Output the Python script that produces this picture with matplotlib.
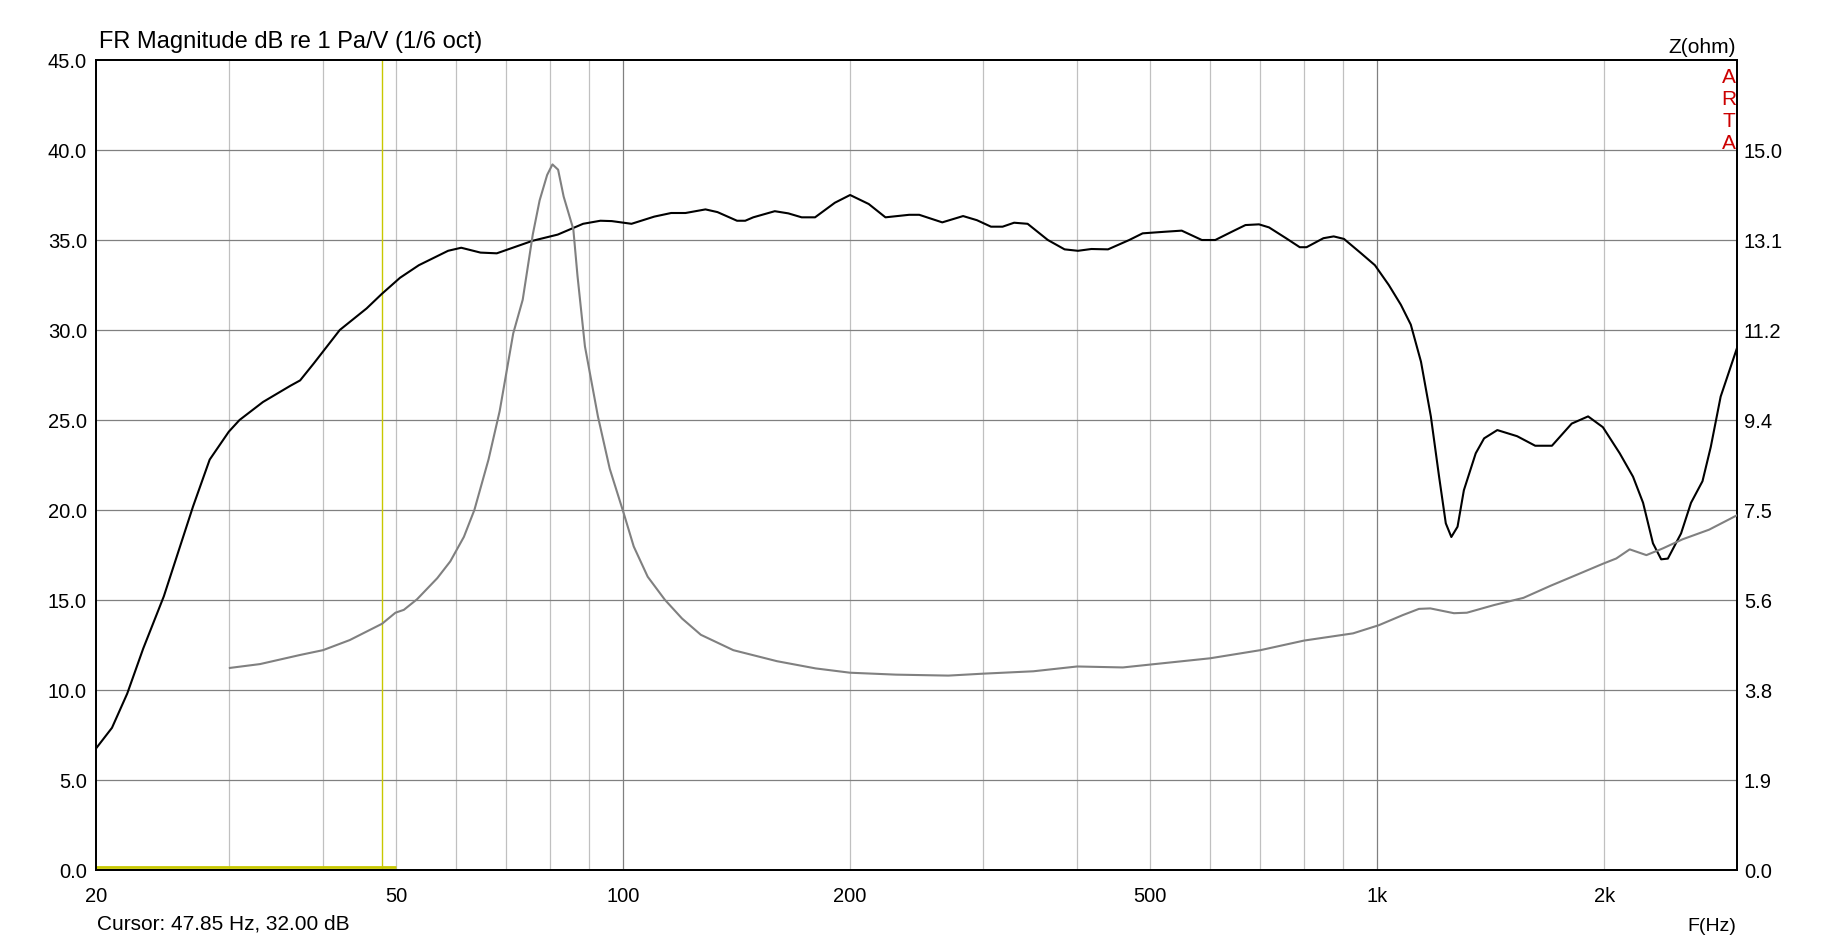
import matplotlib
matplotlib.use("Agg")
import matplotlib.pyplot as plt

plt.rcParams['font.family'] = ['Liberation Sans', 'DejaVu Sans']

# SPL curve (black), dB re 1 Pa/V
spl_freq = [20, 21, 22, 23.1, 24.6, 26.9, 28.3, 30, 31, 33.3, 36.2, 37.3, 38.9, 42.1,
            45.7, 47.85, 50.6, 53.6, 58.6, 61, 64.7, 68, 75.9, 81.9, 88.5, 93.3, 96.6,
            102.6, 110, 115.8, 121, 128.6, 133.4, 141.6, 145.2, 148.8, 158.9, 165.6,
            172.5, 179.7, 190.9, 200, 211.7, 222.8, 239.5, 247, 265, 282.4, 294.6,
            307.5, 318.6, 330, 343.9, 365.8, 385, 401, 417.8, 439.6, 469, 488.6, 523.7,
            550.5, 585.4, 609.9, 641.6, 668.8, 697, 718.7, 757, 789.4, 806, 848.6,
            875.6, 903.5, 952, 993, 1036, 1075, 1108, 1143, 1178, 1208, 1233, 1254,
            1278, 1303, 1351, 1386, 1443, 1533, 1620, 1705, 1811, 1904, 1992, 2097,
            2184, 2252, 2321, 2380, 2429, 2529, 2607, 2700, 2769, 2854, 3000]
spl_db = [6.75, 7.9, 9.8, 12.3, 15.2, 20.2, 22.8, 24.35, 25.0, 26.0, 26.9, 27.2, 28.15, 30.0,
          31.2, 32.0, 32.9, 33.6, 34.4, 34.57, 34.3, 34.26, 34.96, 35.3, 35.9, 36.07, 36.05,
          35.9, 36.3, 36.5, 36.5, 36.7, 36.55, 36.07, 36.07, 36.26, 36.6, 36.48,
          36.26, 36.26, 37.07, 37.5, 37.0, 36.26, 36.4, 36.4, 35.98, 36.33, 36.1,
          35.74, 35.74, 35.96, 35.9, 35.0, 34.48, 34.4, 34.5, 34.48, 35.0, 35.37, 35.46,
          35.52, 35.0, 35.0, 35.46, 35.83, 35.87, 35.7, 35.1, 34.6, 34.6, 35.1,
          35.2, 35.06, 34.26, 33.6, 32.5, 31.4, 30.3, 28.24, 25.2, 21.85, 19.26, 18.5,
          19.07, 21.1, 23.15, 23.98, 24.44, 24.1, 23.57, 23.57, 24.8, 25.2, 24.6, 23.15,
          21.85, 20.4, 18.15, 17.26, 17.3, 18.7, 20.4, 21.6, 23.5, 26.3, 29.0]

# impedance curve (gray), ohm
z_freq = [30.1, 33, 37.3, 40, 43.4, 47.9, 49.9, 51.2, 53.3, 56.7, 59.0, 61.5, 63.5, 66.3,
          68.6, 71.5, 73.6, 75.9, 77.5, 79.3, 80.6, 82.0, 83.4, 85.9, 87.0, 89.0, 92.6,
          96, 100.2, 103.3, 107.8, 113.6, 119.7, 126.8, 140, 160, 180, 200, 230, 270,
          300, 350, 400, 460, 500, 600, 700, 800, 929, 1005, 1081, 1136, 1176, 1264,
          1315, 1429, 1563, 1697, 1839, 1992, 2075, 2162, 2275, 2392, 2541, 2755, 3000]
z_ohm = [4.21, 4.29, 4.48, 4.58, 4.79, 5.13, 5.36, 5.42, 5.64, 6.08, 6.43, 6.94, 7.5, 8.55,
         9.56, 11.18, 11.88, 13.24, 13.95, 14.48, 14.7, 14.59, 14.03, 13.35, 12.38, 10.91, 9.45,
         8.36, 7.43, 6.74, 6.11, 5.63, 5.24, 4.9, 4.58, 4.35, 4.2, 4.11, 4.07, 4.05,
         4.09, 4.14, 4.24, 4.22, 4.28, 4.41, 4.58, 4.78, 4.93, 5.1, 5.31, 5.44, 5.45, 5.35,
         5.36, 5.52, 5.67, 5.92, 6.15, 6.38, 6.49, 6.68, 6.56, 6.7, 6.89, 7.09, 7.39]

x_ticks = [20, 50, 100, 200, 500, 1000, 2000]
x_tick_labels = ['20', '50', '100', '200', '500', '1k', '2k']
light_grid = [30, 40, 50, 60, 70, 80, 90, 200, 300, 400, 500, 600, 700, 800, 900, 2000]
dark_grid = [100, 1000]
db_ticks = [0, 5, 10, 15, 20, 25, 30, 35, 40, 45]
z_ticks = [0, 1.875, 3.75, 5.625, 7.5, 9.375, 11.25, 13.125, 15.0]
z_tick_labels = ['0.0', '1.9', '3.8', '5.6', '7.5', '9.4', '11.2', '13.1', '15.0']

cursor_freq = 47.85
cursor_db = 32.00

fig = plt.figure(figsize=(18.33, 9.42), dpi=100)
ax = fig.add_axes([96 / 1833, 72 / 942, (1737 - 96) / 1833, 810 / 942])

ax.set_xscale('log')
ax.set_xlim(20, 3000)
ax.set_ylim(0, 45)

# grid
for f in light_grid:
    ax.axvline(f, color='#c0c0c0', lw=0.9, zorder=1)
for f in dark_grid:
    ax.axvline(f, color='#808080', lw=0.9, zorder=1)
for d in db_ticks[1:-1]:
    ax.axhline(d, color='#808080', lw=0.9, zorder=1)

# cursor
ax.axvline(cursor_freq, color='#c8c800', lw=1.0, zorder=2)
ax.plot([20, 50], [0.17, 0.17], color='#c8c800', lw=2.0, zorder=2, solid_capstyle='butt')

ax.plot(spl_freq, spl_db, color='black', lw=1.5, zorder=4)

ax.set_xticks(x_ticks)
ax.set_xticklabels(x_tick_labels)
ax.xaxis.set_minor_locator(matplotlib.ticker.NullLocator())
ax.set_yticks(db_ticks)
ax.set_yticklabels([f"{v:.1f}" for v in db_ticks])
ax.tick_params(axis='both', length=0, labelsize=14.5)
ax.tick_params(axis='x', pad=12)
ax.tick_params(axis='y', pad=6.5)
for s in ax.spines.values():
    s.set_linewidth(1.3)
    s.set_color('black')

ax2 = ax.twinx()
ax2.set_ylim(0, 45 * 15.0 / 40)
ax2.plot(z_freq, z_ohm, color='#808080', lw=1.5, zorder=3)
ax2.set_yticks(z_ticks)
ax2.set_yticklabels(z_tick_labels)
ax2.tick_params(axis='y', length=0, labelsize=14.5, pad=5)
for s in ax2.spines.values():
    s.set_linewidth(1.3)

# texts
fig.text(99 / 1833, 1 - 48 / 942, 'FR Magnitude dB re 1 Pa/V (1/6 oct)',
         fontsize=17, ha='left', va='baseline')
fig.text(1736 / 1833, 1 - 53 / 942, 'Z(ohm)', fontsize=15, ha='right', va='baseline')
fig.text(1736 / 1833, 1 - 931 / 942, 'F(Hz)', fontsize=14, ha='right', va='baseline')
fig.text(97 / 1833, 1 - 930 / 942, f'Cursor: {cursor_freq:.2f} Hz, {cursor_db:.2f} dB',
         fontsize=15, ha='left', va='baseline')
for i, ch in enumerate('ARTA'):
    fig.text(1729 / 1833, 1 - (83 + i * 22) / 942, ch, color='#cc0000',
             fontsize=15, ha='center', va='baseline')

fig.savefig('out.png', dpi=100)
